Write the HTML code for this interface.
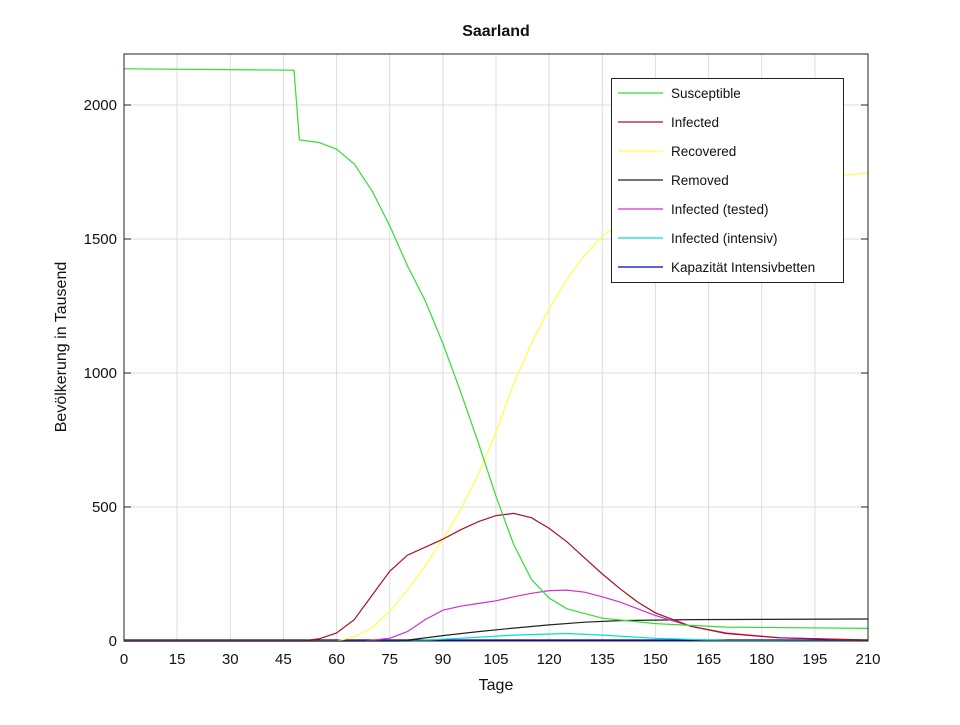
<!DOCTYPE html><html><head><style>body{margin:0;background:#fff}svg{font-family:"Liberation Sans",sans-serif}</style></head><body>
<svg width="960" height="720" xmlns="http://www.w3.org/2000/svg">
<rect width="960" height="720" fill="#fff"/>
<g stroke="#ddd" stroke-width="1">
<line x1="177.1" y1="54" x2="177.1" y2="641"/><line x1="230.3" y1="54" x2="230.3" y2="641"/><line x1="283.4" y1="54" x2="283.4" y2="641"/><line x1="336.6" y1="54" x2="336.6" y2="641"/><line x1="389.7" y1="54" x2="389.7" y2="641"/><line x1="442.9" y1="54" x2="442.9" y2="641"/><line x1="496" y1="54" x2="496" y2="641"/><line x1="549.1" y1="54" x2="549.1" y2="641"/><line x1="602.3" y1="54" x2="602.3" y2="641"/><line x1="655.4" y1="54" x2="655.4" y2="641"/><line x1="708.6" y1="54" x2="708.6" y2="641"/><line x1="761.7" y1="54" x2="761.7" y2="641"/><line x1="814.9" y1="54" x2="814.9" y2="641"/>
<line x1="124" y1="507" x2="868" y2="507"/><line x1="124" y1="373" x2="868" y2="373"/><line x1="124" y1="239" x2="868" y2="239"/><line x1="124" y1="105" x2="868" y2="105"/>
</g>
<g fill="none" stroke-width="1.2">
<line x1="124" y1="640" x2="868" y2="640" stroke="#0000cc"/>
<polyline stroke="#00dddd" points="124,641 407.4,641 460.6,638.3 513.7,635.1 566.9,633.5 602.3,635.1 655.5,638.3 726.3,640.5 868,641"/>
<polyline stroke="#222" points="124,641 400.4,641 442.9,635.6 478.3,631.6 513.7,628.1 549.2,624.9 584.6,622.2 620,620.6 690.9,619.6 868,619"/>
<polyline stroke="#cc33cc" points="124,641 364.9,641 389.7,638.3 407.4,631.6 425.2,619.6 442.9,610.2 460.6,606.2 478.3,603.5 496,600.8 513.7,596.8 531.4,593.3 549.2,590.6 566.9,590.1 584.6,592.2 602.3,596.8 620,602.1 637.7,608.8 655.5,615.5 690.9,626.3 726.3,633 779.5,637.8 868,640.2"/>
<polyline stroke="#ffff44" points="124,641 336.6,641 354.3,637 372,627.6 389.7,611.5 407.4,590.1 425.2,566 442.9,539.2 460.6,509.7 478.3,474.8 496,432 513.7,383.7 531.4,343.5 549.2,308.7 566.9,279.2 584.6,255.1 602.3,236.3 620,222.9 655.5,204.2 708.6,188 761.7,180 868,173.3"/>
<polyline stroke="#aa1122" points="124,641 301,641 318.9,638.9 336.6,633 354.3,619.6 372,595.4 389.7,571.3 407.4,555.2 425.2,547.2 442.9,539.2 460.6,529.8 478.3,521.7 496,515.6 513.7,513.4 531.4,517.7 549.2,528.4 566.9,541.8 584.6,557.9 602.3,574 620,588.7 637.7,602.1 655.5,612.9 690.9,626.3 726.3,633.5 779.5,637.8 868,640"/>
<polyline stroke="#33dd33" points="124,68.8 294,70.2 299.4,139.8 318.9,142.5 336.6,149.2 354.3,164 372,190.8 389.7,225.6 407.4,265.8 425.2,300.6 442.9,343.5 460.6,391.8 478.3,442.7 496,496.3 513.7,544.5 531.4,579.4 549.2,598.1 566.9,608.8 602.3,618.2 655.5,623.6 726.3,627.1 868,628.4"/>
</g>
<rect x="124" y="54" width="744" height="587" fill="none" stroke="#222" stroke-width="1"/>
<g stroke="#222">
<line x1="124" y1="507" x2="131" y2="507"/><line x1="124" y1="373" x2="131" y2="373"/><line x1="124" y1="239" x2="131" y2="239"/><line x1="124" y1="105" x2="131" y2="105"/>
<line x1="868" y1="507" x2="861" y2="507"/><line x1="868" y1="373" x2="861" y2="373"/><line x1="868" y1="239" x2="861" y2="239"/><line x1="868" y1="105" x2="861" y2="105"/>
</g>
<g font-size="15" fill="#111" text-anchor="end">
<text x="117" y="646">0</text><text x="117" y="512">500</text><text x="117" y="378">1000</text><text x="117" y="244">1500</text><text x="117" y="110">2000</text>
</g>
<g font-size="15" fill="#111" text-anchor="middle">
<text x="124" y="664">0</text><text x="177.1" y="664">15</text><text x="230.3" y="664">30</text><text x="283.4" y="664">45</text><text x="336.6" y="664">60</text><text x="389.7" y="664">75</text><text x="442.9" y="664">90</text><text x="496" y="664">105</text><text x="549.1" y="664">120</text><text x="602.3" y="664">135</text><text x="655.4" y="664">150</text><text x="708.6" y="664">165</text><text x="761.7" y="664">180</text><text x="814.9" y="664">195</text><text x="868" y="664">210</text>
<text x="496" y="690" font-size="16">Tage</text>
<text x="496" y="36" font-size="16" font-weight="bold">Saarland</text>
<text transform="translate(66,347) rotate(-90)" font-size="16">Bevölkerung in Tausend</text>
</g>
<rect x="611.5" y="78.5" width="232" height="204" fill="#fff" stroke="#222"/>
<g stroke-width="1.2">
<line x1="618" y1="93" x2="663" y2="93" stroke="#33dd33"/>
<line x1="618" y1="122" x2="663" y2="122" stroke="#aa1122"/>
<line x1="618" y1="151" x2="663" y2="151" stroke="#ffff44"/>
<line x1="618" y1="180" x2="663" y2="180" stroke="#222"/>
<line x1="618" y1="209" x2="663" y2="209" stroke="#cc33cc"/>
<line x1="618" y1="238" x2="663" y2="238" stroke="#00dddd"/>
<line x1="618" y1="267" x2="663" y2="267" stroke="#0000cc"/>
</g>
<g font-size="13.5" fill="#111">
<text x="671" y="98">Susceptible</text><text x="671" y="127">Infected</text><text x="671" y="156">Recovered</text><text x="671" y="185">Removed</text><text x="671" y="214">Infected (tested)</text><text x="671" y="243">Infected (intensiv)</text><text x="671" y="272">Kapazität Intensivbetten</text>
</g>
</svg></body></html>
